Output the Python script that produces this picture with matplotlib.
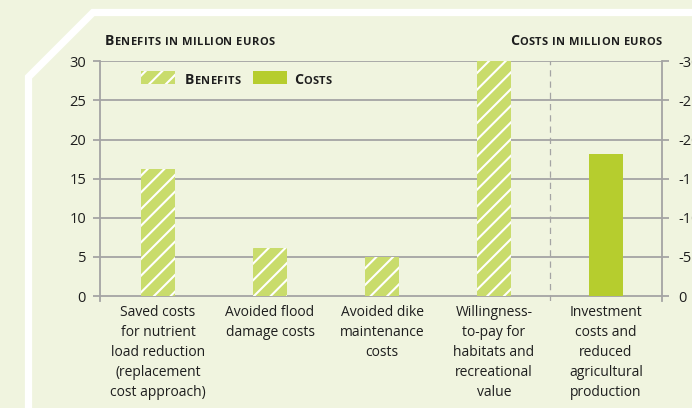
import numpy as np
import matplotlib.pyplot as plt
from matplotlib.lines import Line2D
from matplotlib.patches import Rectangle

# ------------------------------------------------------------
# data
# ------------------------------------------------------------
CATEGORIES = [
    "Saved costs\nfor nutrient\nload reduction\n(replacement\ncost approach)",
    "Avoided flood\ndamage costs",
    "Avoided dike\nmaintenance\ncosts",
    "Willingness-\nto-pay for\nhabitats and\nrecreational\nvalue",
    "Investment\ncosts and\nreduced\nagricultural\nproduction",
]
BENEFITS = [16.2, 6.2, 5.0, 30.0, 0.0]
COSTS = [0.0, 0.0, 0.0, 0.0, 18.2]

Y_TICKS = [0, 5, 10, 15, 20, 25, 30]
RIGHT_LABELS = ["0", "-5", "-10", "-15", "-20", "-25", "-30"]

# ------------------------------------------------------------
# style
# ------------------------------------------------------------
W, H = 692, 408
BG = "#f0f4df"
BENEFIT_COLOR = "#c9dc6c"
COST_COLOR = "#b6cd2e"
GRID = "#a4a4a4"
TEXT = "#1e1e1e"
FONT = "Open Sans"

plt.rcParams["font.family"] = [FONT, "DejaVu Sans"]
plt.rcParams["hatch.color"] = "white"
plt.rcParams["hatch.linewidth"] = 1.5

fig = plt.figure(figsize=(W / 100, H / 100), dpi=100, facecolor=BG)


def px(x, y):
    """reference pixel coords (top-left origin) -> figure fraction"""
    return x / W, 1 - y / H


# white frame with cut corner
fx, fy = zip(*[px(28.5, 420), px(28.5, 77), px(93, 12.5), px(700, 12.5)])
fig.add_artist(Line2D(fx, fy, color="white", lw=5.2,
                      solid_joinstyle="miter", transform=fig.transFigure))

# axes placement
unit = (296 - 61) / 30.0
y_lo = -0.6
ax_bottom = 296 + (-y_lo) * unit
ax_h = (30 - y_lo) * unit
ax = fig.add_axes([100 / W, 1 - ax_bottom / H, 562 / W, ax_h / H])
ax.set_facecolor("none")

x = np.arange(len(CATEGORIES))
bw = 0.30

ax.bar(x, BENEFITS, width=bw, color=BENEFIT_COLOR, edgecolor="white",
       linewidth=0, hatch="//", zorder=3)
ax.bar(x, COSTS, width=bw, color=COST_COLOR, linewidth=0, zorder=3)

ax.set_xlim(-0.518, 4.5)
ax.set_ylim(y_lo, 30.05)

ax.set_yticks(Y_TICKS)
ax.set_yticklabels([str(t) for t in Y_TICKS])
ax.grid(axis="y", color=GRID, linewidth=1.3, zorder=1)
ax.axvline(3.5, color=GRID, linewidth=0.9, linestyle=(0, (5, 4)), zorder=2)

for side in ["top", "bottom", "right"]:
    ax.spines[side].set_visible(False)
ax.spines["left"].set_color(GRID)
ax.spines["left"].set_linewidth(1.3)

ax.tick_params(axis="y", length=5, width=1.3, color=GRID, pad=5,
               labelsize=10.5, labelcolor=TEXT)
ax.set_xticks(x)
ax.set_xticklabels(CATEGORIES, fontsize=10, color=TEXT, linespacing=1.45)
ax.tick_params(axis="x", length=0, pad=3)

# right-hand cost axis
ax2 = ax.twinx()
ax2.set_ylim(ax.get_ylim())
ax2.set_yticks(Y_TICKS)
ax2.set_yticklabels(RIGHT_LABELS)
for side in ["top", "bottom", "left"]:
    ax2.spines[side].set_visible(False)
ax2.spines["right"].set_color(GRID)
ax2.spines["right"].set_linewidth(1.3)
ax2.tick_params(axis="y", length=5, width=1.3, color=GRID, pad=7,
                labelsize=10.5, labelcolor=TEXT)

# ------------------------------------------------------------
# small caps text helper
# ------------------------------------------------------------
renderer = fig.canvas.get_renderer()


def small_caps(px_x, px_y, text, big=10.2, small=8.0, ha="left", track=0.35):
    runs = []
    for ch in text:
        size = big if ch.isupper() else small
        if runs and runs[-1][1] == size:
            runs[-1][0] += ch.upper()
        else:
            runs.append([ch.upper(), size])

    # one Text per letter so a little tracking can be added
    arts = []
    for s, size in runs:
        for ch in s:
            t = fig.text(0, 0, ch, fontsize=size, fontweight="bold",
                         color=TEXT, ha="left", va="baseline")
            arts.append((t, ch, size))
    widths = []
    for a, ch, size in arts:
        if ch == " ":
            widths.append(size * 0.42 + track)
        else:
            widths.append(a.get_window_extent(renderer).width + track)
    total = sum(widths) - track
    cur = px_x if ha == "left" else px_x - total
    for (a, ch, size), w in zip(arts, widths):
        a.set_position(px(cur, px_y))
        cur += w


small_caps(105, 45, "Benefits in million euros")
small_caps(662, 45, "Costs in million euros", ha="right")

# legend
ax.add_patch(Rectangle(px(141, 84), 34 / W, 13 / H, transform=fig.transFigure,
                       facecolor=BENEFIT_COLOR, edgecolor="white", linewidth=0,
                       hatch="//", zorder=5))
small_caps(185, 84, "Benefits")
ax.add_patch(Rectangle(px(253, 84), 34 / W, 13 / H, transform=fig.transFigure,
                       facecolor=COST_COLOR, linewidth=0, zorder=5))
small_caps(294, 84, "Costs")

fig.savefig("out.png", dpi=100, facecolor=BG)
